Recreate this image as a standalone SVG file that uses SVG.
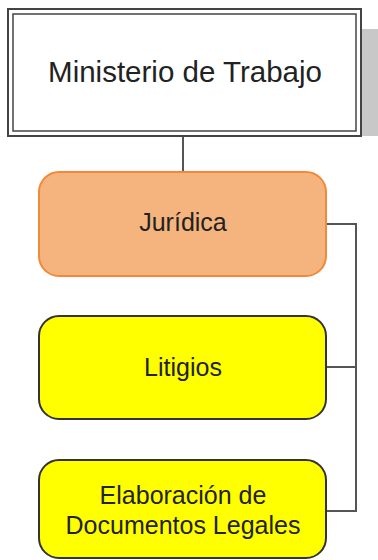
<svg xmlns="http://www.w3.org/2000/svg" width="378" height="560" viewBox="0 0 378 560">
<style>
.txt{font-family:"Liberation Sans",Arial,sans-serif;text-anchor:middle;fill:#222}
.conn{fill:none;stroke:#555;stroke-width:2}
.yel{fill:#FFFF00;stroke:#333;stroke-width:2}
</style>
<rect x="0" y="0" width="378" height="560" fill="#fff"/>
<g id="connectors">
<line class="conn" x1="183" y1="136" x2="183" y2="172"/>
<polyline class="conn" points="326,224 356,224 356,511 326,511"/>
<line class="conn" x1="326" y1="367" x2="356" y2="367"/>
</g>
<g id="ministerio">
<rect x="362" y="29" width="16" height="107" fill="#c8c8c8"/>
<rect x="8" y="9" width="353" height="127" fill="#fff" stroke="#444" stroke-width="2"/>
<rect x="13" y="14" width="343" height="117" fill="none" stroke="#444" stroke-width="1.5"/>
<text class="txt" x="185" y="82" font-size="29.5">Ministerio de Trabajo</text>
</g>
<g id="juridica">
<rect x="39" y="172" width="287" height="104" rx="20" fill="#F5B47E" stroke="#F08A3A" stroke-width="2"/>
<text class="txt" x="183" y="231" font-size="25" fill="#333">Jurídica</text>
</g>
<g id="litigios">
<rect class="yel" x="39" y="316" width="287" height="103" rx="20"/>
<text class="txt" x="183" y="376" font-size="25">Litigios</text>
</g>
<g id="elaboracion">
<rect class="yel" x="39" y="460" width="287" height="98" rx="20"/>
<text class="txt" x="183" y="504" font-size="25">Elaboración de</text>
<text class="txt" x="183" y="534" font-size="25">Documentos Legales</text>
</g>
</svg>
